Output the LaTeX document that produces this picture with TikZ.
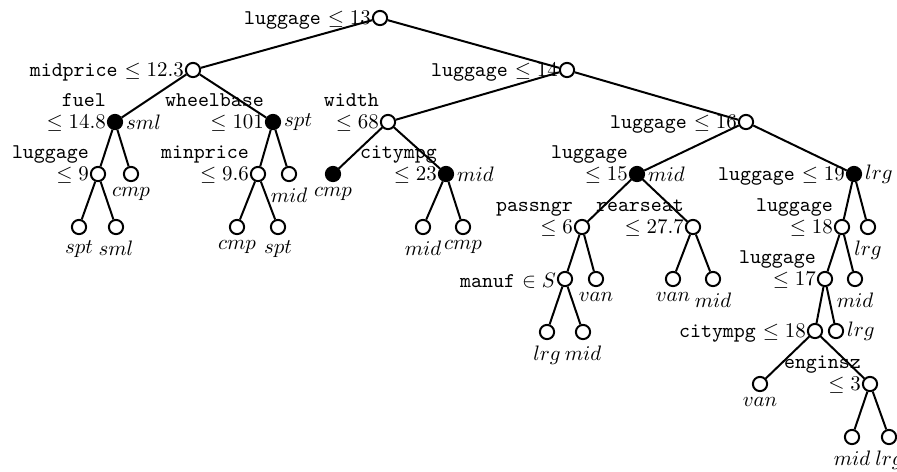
\documentclass[tikz,border=0pt]{standalone}
\begin{document}
\begin{tikzpicture}[x=0.478pt, y=-0.478pt, line width=0.95pt,
        tnode/.style={circle, draw, fill=white, minimum size=6.8pt, inner sep=0pt},
        dnode/.style={tnode, fill=black},
        cond/.style={label={[inner sep=0pt, yshift=-1pt]left:{#1}}},
        condtwo/.style={label={[inner sep=0pt, align=right, anchor=south east, yshift=-5pt]left:{#1}}},
        cls/.style={label={[inner sep=1pt, label distance=1.2pt]below:{$#1$}}},
        clsr/.style={label={[inner sep=1pt]right:{$#1$}}}]
    \useasboundingbox (0, 0) rectangle (897, 471);
    % splits
    \node [tnode, cond={\texttt{luggage} $\le 13$}] (root) at (380, 18) {};
    \node [tnode, cond={\texttt{midprice} $\le 12.3$}] (mp) at (193, 70) {};
    \node [tnode, cond={\texttt{luggage} $\le 14$}] (l14) at (567, 70) {};
    \node [dnode, condtwo={\texttt{fuel}\\[-1.5pt]$\le 14.8$}, clsr=sml] (fu) at (115, 122) {};
    \node [dnode, condtwo={\texttt{wheelbase}\\[-1.5pt]$\le 101$}, clsr=spt] (wb) at (273, 122) {};
    \node [tnode, condtwo={\texttt{width}\\[-1.5pt]$\le 68$}] (wd) at (388, 122) {};
    \node [tnode, cond={\texttt{luggage} $\le 16$}] (l16) at (746, 122) {};
    \node [tnode, condtwo={\texttt{luggage}\\[-1.5pt]$\le 9$}] (l9) at (98, 174) {};
    \node [tnode, condtwo={\texttt{minprice}\\[-1.5pt]$\le 9.6$}] (mn) at (258, 174) {};
    \node [dnode, condtwo={\texttt{citympg}\\[-1.5pt]$\le 23$}, clsr=mid] (c23) at (446, 174) {};
    \node [dnode, condtwo={\texttt{luggage}\\[-1.5pt]$\le 15$}, clsr=mid] (l15) at (637, 174) {};
    \node [dnode, cond={\texttt{luggage} $\le 19$}, clsr=lrg] (l19) at (854, 174) {};
    \node [tnode, condtwo={\texttt{passngr}\\[-1.5pt]$\le 6$}] (ps) at (582, 227) {};
    \node [tnode, condtwo={\texttt{rearseat}\\[-1.5pt]$\le 27.7$}] (rs) at (693, 227) {};
    \node [tnode, condtwo={\texttt{luggage}\\[-1.5pt]$\le 18$}] (l18) at (842, 227) {};
    \node [tnode, cond={\texttt{manuf} $\in S$}] (mf) at (565, 279) {};
    \node [tnode, condtwo={\texttt{luggage}\\[-1.5pt]$\le 17$}] (l17) at (825, 279) {};
    \node [tnode, cond={\texttt{citympg} $\le 18$}] (c18) at (815, 331) {};
    \node [tnode, condtwo={\texttt{enginsz}\\[-1.5pt]$\le 3$}] (es) at (870, 384) {};
    % leaves
    \node [tnode, cls=cmp] (fub) at (131, 174) {};
    \node [tnode, cls=mid] (wbb) at (289, 174) {};
    \node [dnode, cls=cmp] (wda) at (333, 174) {};
    \node [tnode, cls=spt] (l9a) at (79, 227) {};
    \node [tnode, cls=sml] (l9b) at (116, 227) {};
    \node [tnode, cls=cmp] (mna) at (237, 227) {};
    \node [tnode, cls=spt] (mnb) at (278, 227) {};
    \node [tnode, cls=mid] (c23a) at (423, 227) {};
    \node [tnode, cls=cmp] (c23b) at (463, 227) {};
    \node [tnode, cls=lrg] (l19b) at (868, 227) {};
    \node [tnode, cls=van] (psb) at (596, 279) {};
    \node [tnode, cls=van] (rsa) at (673, 279) {};
    \node [tnode, cls=mid] (rsb) at (713, 279) {};
    \node [tnode, cls=mid] (l18b) at (855, 279) {};
    \node [tnode, cls=lrg] (mfa) at (547, 332) {};
    \node [tnode, cls=mid] (mfb) at (583, 332) {};
    \node [tnode, clsr=lrg] (l17b) at (836, 331) {};
    \node [tnode, cls=van] (c18a) at (760, 384) {};
    \node [tnode, cls=mid] (esa) at (852, 437) {};
    \node [tnode, cls=lrg] (esb) at (889, 437) {};
    % branches
    \draw (root) -- (mp);
    \draw (root) -- (l14);
    \draw (mp) -- (fu);
    \draw (mp) -- (wb);
    \draw (l14) -- (wd);
    \draw (l14) -- (l16);
    \draw (fu) -- (l9);
    \draw (fu) -- (fub);
    \draw (wb) -- (mn);
    \draw (wb) -- (wbb);
    \draw (wd) -- (wda);
    \draw (wd) -- (c23);
    \draw (l16) -- (l15);
    \draw (l16) -- (l19);
    \draw (l9) -- (l9a);
    \draw (l9) -- (l9b);
    \draw (mn) -- (mna);
    \draw (mn) -- (mnb);
    \draw (c23) -- (c23a);
    \draw (c23) -- (c23b);
    \draw (l15) -- (ps);
    \draw (l15) -- (rs);
    \draw (l19) -- (l18);
    \draw (l19) -- (l19b);
    \draw (ps) -- (mf);
    \draw (ps) -- (psb);
    \draw (rs) -- (rsa);
    \draw (rs) -- (rsb);
    \draw (l18) -- (l17);
    \draw (l18) -- (l18b);
    \draw (mf) -- (mfa);
    \draw (mf) -- (mfb);
    \draw (l17) -- (c18);
    \draw (l17) -- (l17b);
    \draw (c18) -- (c18a);
    \draw (c18) -- (es);
    \draw (es) -- (esa);
    \draw (es) -- (esb);
\end{tikzpicture}
\end{document}
